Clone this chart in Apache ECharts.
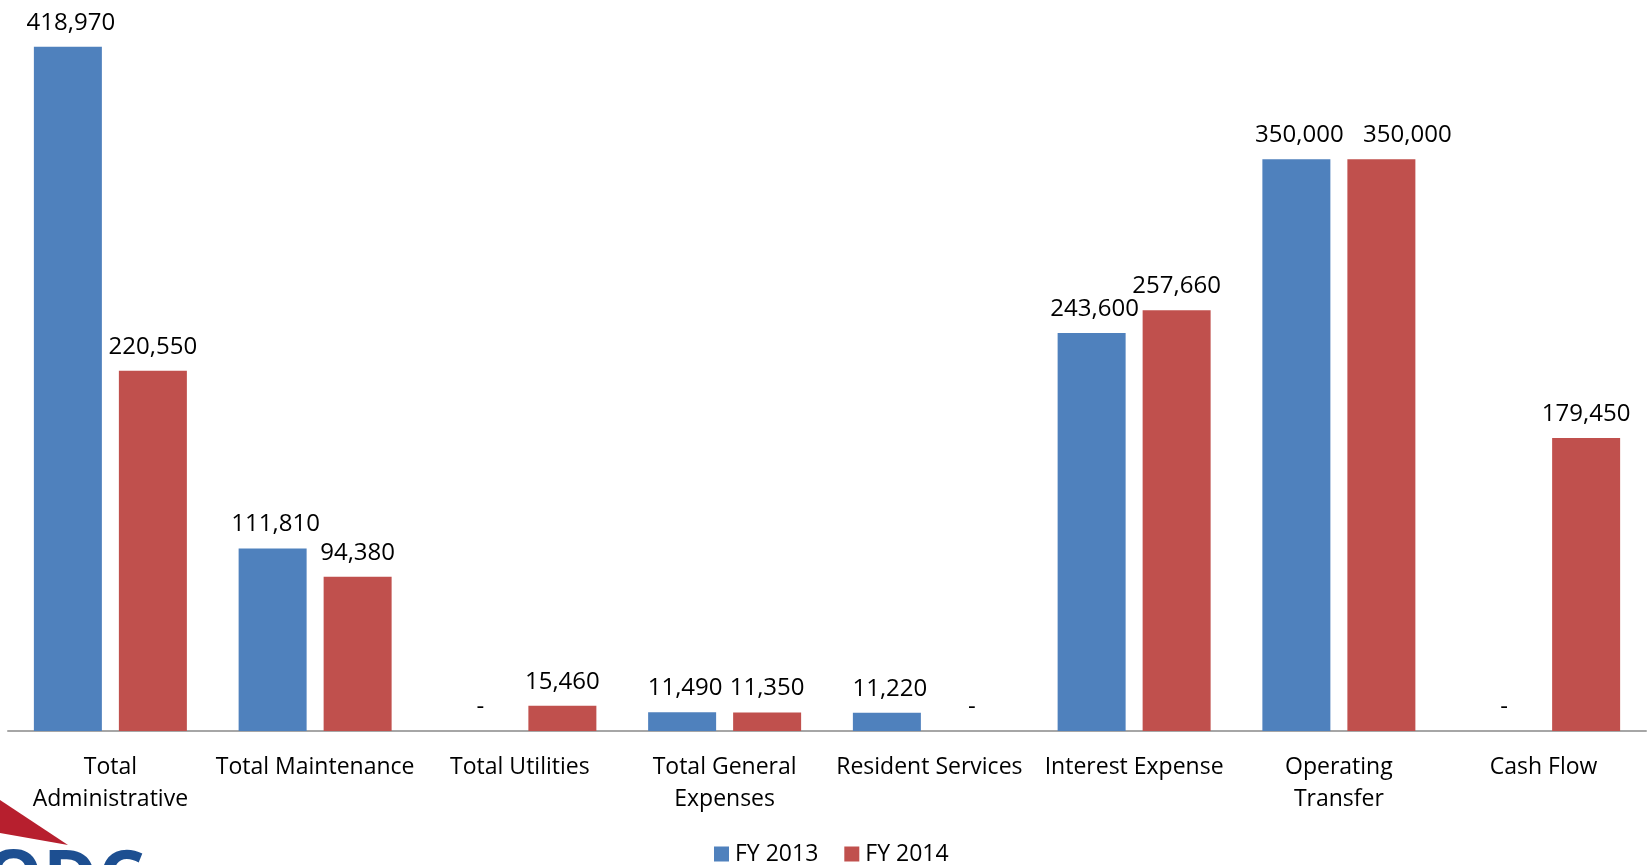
<!DOCTYPE html>
<html>
<head>
<meta charset="utf-8">
<title>Operating Budget FY 2013 vs FY 2014</title>
<script src="https://cdn.jsdelivr.net/npm/echarts@6/dist/echarts.min.js"></script>
<style>
  html, body { margin: 0; padding: 0; background: #ffffff; }
  #chart { width: 1648px; height: 865px; }
</style>
</head>
<body>
<div id="chart"></div>
<script>
// Budget line items
const categories = [
  'Total\nAdministrative',
  'Total Maintenance',
  'Total Utilities',
  'Total General\nExpenses',
  'Resident Services',
  'Interest Expense',
  'Operating\nTransfer',
  'Cash Flow'
];

// Amounts per fiscal year (0 shown as "-")
const fy2013 = [418970, 111810, 0, 11490, 11220, 243600, 350000, 0];
const fy2014 = [220550, 94380, 15460, 11350, 0, 257660, 350000, 179450];

const seriesNames = ['FY 2013', 'FY 2014'];

const FONT = '"Open Sans", "Liberation Sans", sans-serif';

const valueLabel = {
  show: true,
  position: 'top',
  distance: 10,
  offset: [3, 0],
  fontFamily: FONT,
  fontSize: 24,
  lineHeight: 28,
  color: '#000000',
  formatter: p => p.value === 0 ? '-' : p.value.toLocaleString('en-US')
};

const chart = echarts.init(document.getElementById('chart'), null, { renderer: 'canvas' });

chart.setOption({
  backgroundColor: '#ffffff',
  animation: false,
  grid: { left: 8, right: 2, top: 45, bottom: 134, containLabel: false },
  legend: {
    data: seriesNames,
    left: 714,
    top: 840,
    padding: 0,
    itemWidth: 15,
    itemHeight: 15,
    itemGap: 26,
    icon: 'rect',
    textStyle: { fontFamily: FONT, fontSize: 23, lineHeight: 28, color: '#000000', padding: [0, 0, 0, 1] }
  },
  xAxis: {
    type: 'category',
    data: categories,
    axisLine: { lineStyle: { color: '#a6a6a6', width: 2 } },
    axisTick: { show: false },
    axisLabel: {
      interval: 0,
      margin: 20,
      fontFamily: FONT,
      fontSize: 23,
      lineHeight: 32,
      color: '#000000',
      align: 'center'
    }
  },
  yAxis: {
    type: 'value',
    min: 0,
    max: 420000,
    show: false,
    splitLine: { show: false }
  },
  series: [
    {
      name: seriesNames[0],
      type: 'bar',
      data: fy2013,
      barWidth: 68,
      barGap: '25%',
      itemStyle: { color: '#4f81bd' },
      label: valueLabel
    },
    {
      name: seriesNames[1],
      type: 'bar',
      data: fy2014,
      barWidth: 68,
      barGap: '25%',
      itemStyle: { color: '#c0504d' },
      label: valueLabel,
      // keep the two equal "Operating Transfer" labels from running into each other
      labelLayout: p => (p.dataIndex === 6 ? { dx: 26 } : {})
    }
  ],
  graphic: [
    {
      type: 'polygon',
      shape: { points: [[0, 800], [68, 845], [0, 833]] },
      style: { fill: '#b71f2e' },
      silent: true
    },
    {
      type: 'text',
      left: -16,
      top: 845,
      style: {
        text: 'ODC',
        fontFamily: FONT,
        fontWeight: 'bold',
        fontSize: 74,
        fill: '#1d4f91'
      },
      silent: true
    }
  ]
});
</script>
</body>
</html>
